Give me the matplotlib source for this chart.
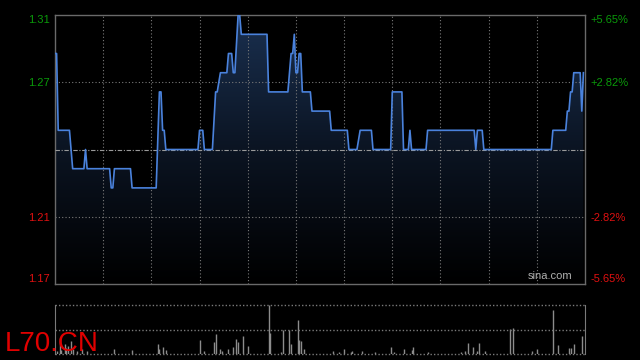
import numpy as np
import matplotlib
matplotlib.use("Agg")
import matplotlib.pyplot as plt
from matplotlib.colors import LinearSegmentedColormap

plt.rcParams['font.family'] = ['Liberation Sans', 'DejaVu Sans']

# intraday price, vertices (minutes since open, price)
minutes = [0, 1, 2, 9, 11, 18, 19, 20, 34, 35, 36, 37, 47, 48, 63, 65, 66, 67, 68, 69,
           89, 90, 92, 93, 98, 100, 101, 103, 107, 108, 110, 111, 112, 114, 115, 116,
           132, 133, 145, 147, 148, 149, 150, 151, 152, 153, 154, 159, 160, 171, 172,
           182, 183, 188, 190, 197, 198, 209, 210, 216, 217, 220, 221, 222, 231, 232,
           261, 262, 263, 266, 267, 309, 310, 318, 319, 320, 321, 322, 323, 327, 328, 329]
prices = [1.29, 1.29, 1.25, 1.25, 1.23, 1.23, 1.24, 1.23, 1.23, 1.22, 1.22, 1.23, 1.23, 1.22, 1.22, 1.27, 1.27, 1.25, 1.25, 1.24,
          1.24, 1.25, 1.25, 1.24, 1.24, 1.27, 1.27, 1.28, 1.28, 1.29, 1.29, 1.28, 1.28, 1.31, 1.31, 1.30,
          1.30, 1.27, 1.27, 1.29, 1.29, 1.30, 1.28, 1.28, 1.29, 1.29, 1.27, 1.27, 1.26, 1.26, 1.25,
          1.25, 1.24, 1.24, 1.25, 1.25, 1.24, 1.24, 1.27, 1.27, 1.24, 1.24, 1.25, 1.24, 1.24, 1.25,
          1.25, 1.24, 1.25, 1.25, 1.24, 1.24, 1.25, 1.25, 1.26, 1.26, 1.27, 1.27, 1.28, 1.28, 1.26, 1.28]

# volume bars (minute, relative height)
vol_minutes = [1, 3, 4, 6, 7, 8, 10, 11, 14, 17, 20, 37, 48, 64, 65, 67, 69, 90, 93, 99,
               100, 103, 104, 108, 111, 113, 114, 117, 120, 133, 134, 141, 142, 146, 147,
               151, 152, 153, 155, 173, 177, 180, 184, 185, 191, 199, 209, 211, 217, 222,
               223, 232, 253, 255, 257, 260, 263, 264, 268, 283, 285, 297, 300, 310, 313,
               320, 321, 323, 328]
vol_values = [3, 16, 4, 10, 6, 8, 13, 5, 3, 5, 3, 5, 4, 10, 5, 7, 4, 14, 3, 12,
              20, 5, 3, 5, 7, 15, 12, 18, 8, 50, 21, 2, 25, 24, 10,
              35, 14, 13, 5, 3, 2, 5, 2, 3, 3, 2, 7, 2, 5, 4,
              7, 2, 2, 3, 11, 7, 3, 11, 3, 26, 27, 3, 5, 45, 9,
              6, 6, 10, 18]

prev_close = 1.24
pct_ticks = [0.0565, 0.0282, -0.0282, -0.0565]
price_labels = ['1.31', '1.27', '1.21', '1.17']
pct_labels = ['+5.65%', '+2.82%', '-2.82%', '-5.65%']

green = '#0a9a0a'
red = '#e01010'
grid_c = '#7a7a7a'
line_c = '#4a82dc'

fig = plt.figure(figsize=(6.4, 3.6), dpi=100, facecolor='black')
ax = fig.add_axes([55 / 640, 1 - 284 / 360, 530 / 640, 269 / 360], facecolor='black')
ymin = prev_close * (1 + pct_ticks[-1])
ymax = prev_close * (1 + pct_ticks[0])
ax.set_xlim(0, 330)
ax.set_ylim(ymin, ymax)

# gradient fill under the price line
cmap = LinearSegmentedColormap.from_list('fill', ['#000000', '#0b1422', '#1a3050'])
grad = np.linspace(0, 1, 256).reshape(-1, 1)
img = ax.imshow(grad, cmap=cmap, aspect='auto', origin='lower',
                extent=[0, 330, ymin, ymax], zorder=1)
poly = ax.fill_between(minutes, prices, ymin, facecolor='none', edgecolor='none')
img.set_clip_path(poly.get_paths()[0], transform=ax.transData)

ax.plot(minutes, prices, color=line_c, lw=1.2, zorder=4)

# grid
for m in range(30, 330, 30):
    ax.axvline(m, color=grid_c, lw=0.8, ls=(0, (1, 2)), zorder=2)
for p in pct_ticks[1:3]:
    ax.axhline(prev_close * (1 + p), color=grid_c, lw=0.8, ls=(0, (1, 2)), zorder=2)
ax.axhline(prev_close, color='#9a9a9a', lw=0.8, ls=(0, (4, 1.5, 1, 1.5)), zorder=3)

for s in ax.spines.values():
    s.set_color('#6a6a6a')
    s.set_linewidth(1)

yt = [prev_close * (1 + p) for p in pct_ticks]
ax.set_xticks([])
ax.set_yticks(yt)
ax.set_yticklabels(price_labels, fontsize=8)
ax.tick_params(axis='y', length=0, pad=4)
for lab, c in zip(ax.get_yticklabels(), [green, green, red, red]):
    lab.set_color(c)
labs = ax.get_yticklabels()
labs[0].set_va('top')
labs[-1].set_va('bottom')

ax_r = ax.twinx()
ax_r.set_ylim(ymin, ymax)
ax_r.set_yticks(yt)
ax_r.set_yticklabels(pct_labels, fontsize=8)
ax_r.tick_params(axis='y', length=0, pad=4)
for lab, c in zip(ax_r.get_yticklabels(), [green, green, red, red]):
    lab.set_color(c)
rl = ax_r.get_yticklabels()
rl[0].set_va('top')
rl[-1].set_va('bottom')
for s in ax_r.spines.values():
    s.set_visible(False)

ax.text(0.977, 0.012, 'sina.com', transform=ax.transAxes, ha='right', va='bottom',
        fontsize=8, color='#b0b0b0', zorder=5)

# volume panel
axv = fig.add_axes([55 / 640, 1 - 354.3 / 360, 530 / 640, 49.6 / 360], facecolor='black')
axv.set_xlim(0, 330)
axv.set_ylim(0, 50)
axv.vlines(vol_minutes, 0, vol_values, color='#8c8c8c', lw=1)
for h in (0, 25, 50):
    axv.axhline(h, color=grid_c, lw=1, ls=(0, (1, 1.5)), clip_on=False)
axv.set_xticks([])
axv.set_yticks([])
for side in ('top', 'bottom'):
    axv.spines[side].set_visible(False)
for side in ('left', 'right'):
    axv.spines[side].set_color('#7a7a7a')

fig.text(5 / 640, 1 - 351 / 360, 'L70.CN', color='#e00000', fontsize=20,
         ha='left', va='baseline')

fig.savefig('out.png', dpi=100, facecolor='black')
